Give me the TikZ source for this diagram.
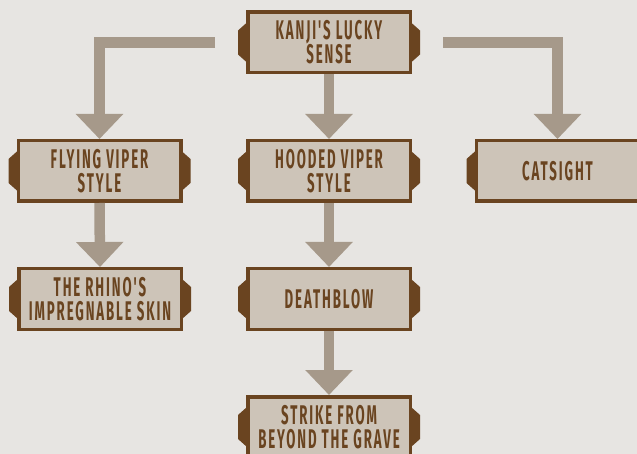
\documentclass[tikz,border=0pt]{standalone}
\usepackage{fontspec}
\newfontfamily\boxfont[FakeStretch=0.49,LetterSpace=7]{Fira Sans}
\usetikzlibrary{arrows.meta}
\definecolor{bgcol}{HTML}{E7E5E2}
\definecolor{boxfill}{HTML}{CDC4B8}
\definecolor{boxline}{HTML}{6A4420}
\definecolor{conncol}{HTML}{A6998A}
\tikzset{
  skill/.style={draw=boxline, fill=boxfill, line width=3.5pt, minimum width=162.5pt,
    minimum height=60.5pt, inner sep=0pt, align=center, text=boxline,
    font=\boxfont\bfseries\fontsize{27}{24}\selectfont},
  conn/.style={draw=conncol, line width=10.5pt, line join=miter,
    -{Triangle[width=46pt,length=25pt]}},
  tabfill/.style={fill=boxline}
}
\begin{document}
\begin{tikzpicture}[x=1pt,y=-1pt]
\fill[bgcol] (0,0) rectangle (637,454);
\useasboundingbox (0,0) rectangle (637,454);

\node[skill] (kanji) at (329,42.5) {KANJI'S LUCKY\\SENSE};
\node[skill] (flying) at (99.5,171) {FLYING VIPER\\STYLE};
\node[skill] (hooded) at (329,171) {HOODED VIPER\\STYLE};
\node[skill] (cat) at (557.5,171) {CATSIGHT};
\node[skill] (rhino) at (100,299) {THE RHINO'S\\IMPREGNABLE SKIN};
\node[skill] (death) at (329,299) {DEATHBLOW};
\node[skill] (strike) at (329,427) {STRIKE FROM\\BEYOND THE GRAVE};

\foreach \n in {kanji,flying,hooded,cat,rhino,death,strike}{
  \fill[tabfill] ([xshift=1pt]\n.west) ++(0,-20) -- ++(-9,8) -- ++(0,24) -- ++(9,8) -- cycle;
  \fill[tabfill] ([xshift=-1pt]\n.east) ++(0,-20) -- ++(9,8) -- ++(0,24) -- ++(-9,8) -- cycle;
}

\coordinate (lstart) at ([xshift=-31pt]kanji.west);
\coordinate (rstart) at ([xshift=31pt]kanji.east);

\draw[conn] (lstart) -| (flying.north);
\draw[conn] (rstart) -| (cat.north);
\draw[conn] (kanji.south) -- (hooded.north);
\draw[conn] (flying.south) -- (rhino.north);
\draw[conn] (hooded.south) -- (death.north);
\draw[conn] (death.south) -- (strike.north);
\end{tikzpicture}
\end{document}
